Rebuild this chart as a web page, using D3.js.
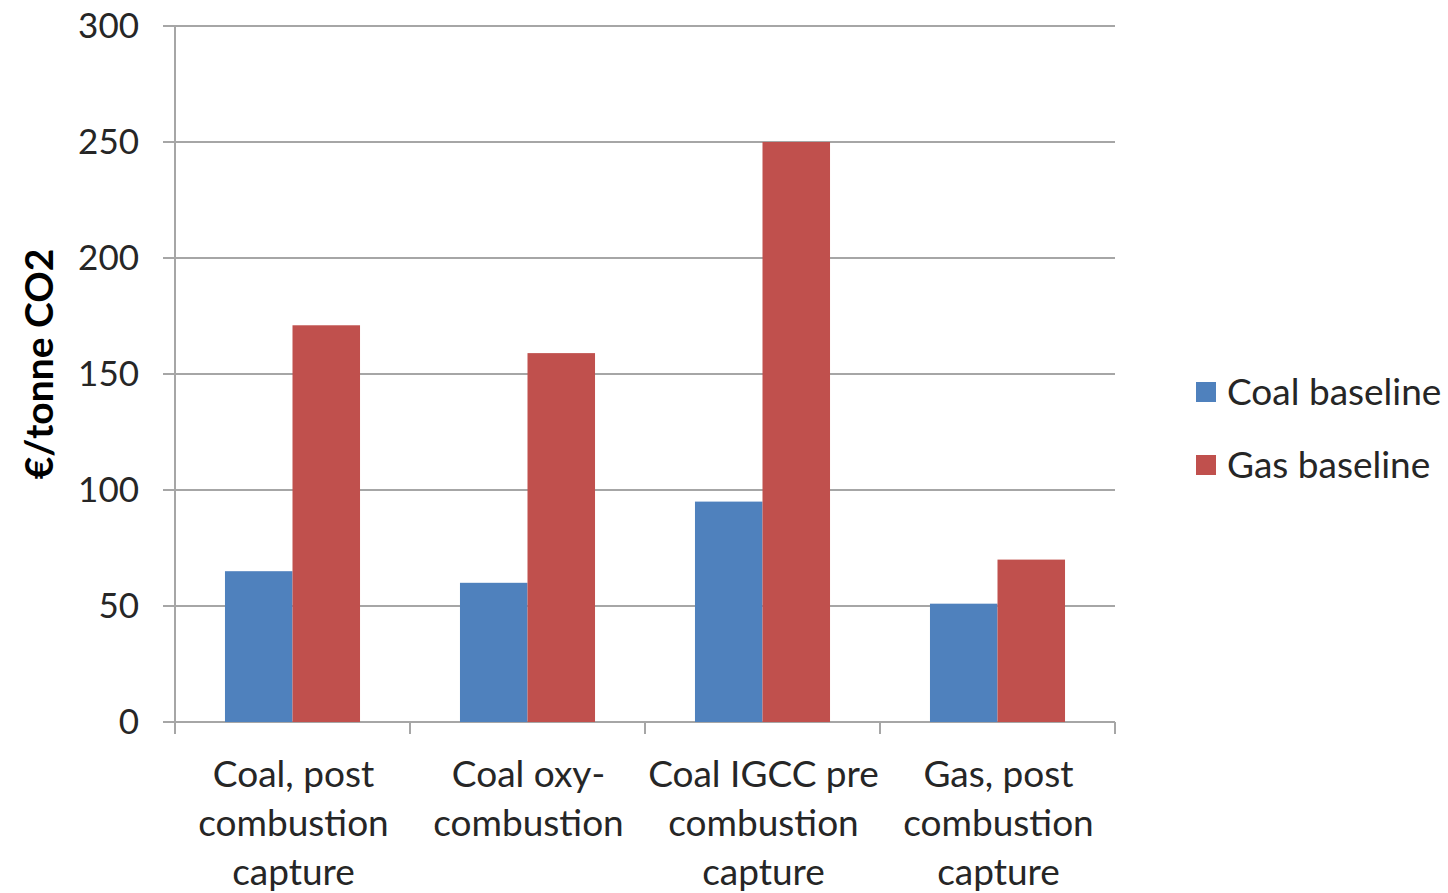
<!DOCTYPE html>
<html>
<head>
<meta charset="utf-8">
<script src="https://cdn.jsdelivr.net/npm/d3@7"></script>
<style>
  html, body { margin: 0; padding: 0; background: #fff; }
  svg { display: block; font-family: Lato, "Open Sans", "Liberation Sans", sans-serif; }
</style>
</head>
<body>
<svg id="chart" width="1448" height="893"></svg>
<script>
// Cost of CO2 avoided per capture technology, against two reference plants
const categories = [
  ["Coal, post", "combustion", "capture"],
  ["Coal oxy-", "combustion"],
  ["Coal IGCC pre", "combustion", "capture"],
  ["Gas, post", "combustion", "capture"]
];
const seriesNames = ["Coal baseline", "Gas baseline"];
const coalBaseline = [65, 60, 95, 51];
const gasBaseline = [171, 159, 250, 70];
const yTicks = [0, 50, 100, 150, 200, 250, 300];
const colors = ["#4f81bd", "#c0504d"];

const svg = d3.select("#chart");
const plotLeft = 175, plotRight = 1115, plotTop = 26, plotBottom = 722;

const x = d3.scaleBand().domain(d3.range(categories.length)).range([plotLeft, plotRight]);
const x1 = d3.scaleBand().domain([0, 1]).range([0, x.bandwidth()]).paddingInner(0).paddingOuter(0.74);
const y = d3.scaleLinear().domain([0, 300]).range([plotBottom, plotTop]);

// horizontal gridlines
svg.append("g").selectAll("line").data(yTicks).join("line")
  .attr("x1", plotLeft - 12).attr("x2", plotRight)
  .attr("y1", d => y(d)).attr("y2", d => y(d))
  .attr("stroke", "#a6a6a6").attr("stroke-width", 2);

// y axis line
svg.append("line").attr("x1", plotLeft).attr("x2", plotLeft).attr("y1", plotTop).attr("y2", plotBottom + 12)
  .attr("stroke", "#a6a6a6").attr("stroke-width", 2);

// y tick labels
svg.append("g").selectAll("text").data(yTicks).join("text")
  .attr("x", 139).attr("y", d => y(d)).attr("dy", "0.35em")
  .attr("text-anchor", "end").attr("font-size", 35).attr("fill", "#262626")
  .text(d => d);

// bars
const series = [coalBaseline, gasBaseline];
const groups = svg.append("g").selectAll("g").data(categories).join("g")
  .attr("transform", (d, i) => `translate(${x(i)},0)`);
groups.selectAll("rect").data((d, i) => series.map((s, k) => ({ k, v: s[i] }))).join("rect")
  .attr("x", d => x1(d.k)).attr("width", x1.bandwidth())
  .attr("y", d => y(d.v)).attr("height", d => y(0) - y(d.v))
  .attr("fill", d => colors[d.k]);

// x category tick marks
svg.append("g").selectAll("line").data(d3.range(categories.length + 1)).join("line")
  .attr("x1", i => plotLeft + i * x.bandwidth()).attr("x2", i => plotLeft + i * x.bandwidth())
  .attr("y1", plotBottom).attr("y2", plotBottom + 12)
  .attr("stroke", "#a6a6a6").attr("stroke-width", 2);

// x category labels
const lab = svg.append("g").selectAll("text").data(categories).join("text")
  .attr("text-anchor", "middle").attr("font-size", 37).attr("fill", "#262626")
  .attr("transform", (d, i) => `translate(${x(i) + x.bandwidth() / 2 + 1},0)`);
lab.selectAll("tspan").data(d => d).join("tspan")
  .attr("x", 0).attr("y", (d, j) => 787 + j * 49).text(d => d);

// y axis title
svg.append("text")
  .attr("transform", `translate(53,${(plotTop + plotBottom) / 2 - 10}) rotate(-90)`)
  .attr("text-anchor", "middle").attr("font-size", 39).attr("font-weight", "bold").attr("fill", "#000")
  .text("€/tonne CO2");

// legend
const legend = svg.append("g").selectAll("g").data(seriesNames).join("g")
  .attr("transform", (d, i) => `translate(1196,${392 + i * 73})`);
legend.append("rect").attr("x", 0).attr("y", -10).attr("width", 20).attr("height", 20)
  .attr("fill", (d, i) => colors[i]);
legend.append("text").attr("x", 31).attr("y", 0).attr("dy", "0.35em")
  .attr("font-size", 37).attr("fill", "#262626").text(d => d);
</script>
</body>
</html>
